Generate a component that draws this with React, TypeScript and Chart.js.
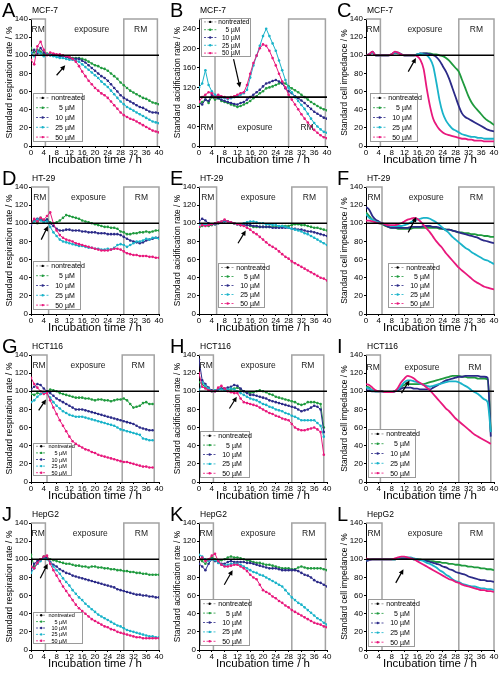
import React, { useEffect, useRef } from "react";
import { Chart, registerables } from "chart.js";
Chart.register(...registerables);

const FONT = "'Liberation Sans', Arial, Helvetica, sans-serif";

// ---------- data (hours 0..40) ----------
const HOURS = [0,1,2,3,4,5,6,7,8,9,10,11,12,13,14,15,16,17,18,19,20,21,22,23,24,25,26,27,28,29,30,31,32,33,34,35,36,37,38,39,40];
const NONTREATED = [100,100,100,100,100,100,100,100,100,100,100,100,100,100,100,100,100,100,100,100,100,100,100,100,100,100,100,100,100,100,100,100,100,100,100,100,100,100,100,100,100];
const SERIES_LABELS = ["nontreated", "5 µM", "10 µM", "25 µM", "50 µM"];

// A: MCF-7 respiration
const A5 = [108,103,106,104,101,102,101,101,100,100,99,99,98,97,97,97,96,95,93,91,89,88,86,85,83,80,77,74,70,67,64,61,59,57,55,53,52,50,48,47,46];
const A10 = [100,106,102,108,103,101,100,101,100,99,99,98,97,96,96,96,94,92,89,86,83,80,77,75,72,68,64,60,56,53,51,49,47,45,43,42,40,38,37,37,36];
const A25 = [103,99,104,102,99,101,100,99,98,97,97,96,95,95,94,93,90,87,84,81,78,75,71,68,65,61,57,53,49,46,43,41,39,37,35,33,31,29,27,26,25];
const A50 = [95,90,110,115,106,100,103,102,101,101,100,99,98,96,93,88,82,77,72,68,64,61,58,56,53,49,45,41,37,34,32,30,29,27,25,23,21,19,17,16,15];
// B: MCF-7 acidification
const B5 = [85,90,95,88,100,95,98,92,90,88,85,83,80,82,85,88,92,98,102,108,112,118,120,122,125,128,130,128,122,118,114,110,105,100,95,90,86,82,78,75,73];
const B10 = [90,85,95,92,105,100,98,95,92,90,88,86,85,88,90,95,100,105,110,115,122,128,130,133,135,132,128,118,112,108,102,98,93,88,82,76,70,66,62,58,56];
const B25 = [120,128,155,125,112,105,102,100,98,96,98,100,102,105,108,115,140,165,185,205,225,240,225,210,195,175,155,135,119,110,100,92,84,76,66,56,47,40,34,29,27];
const B50 = [90,100,105,110,108,100,105,102,100,98,100,102,105,108,110,125,148,170,185,200,208,205,195,180,165,148,132,120,105,95,85,75,65,56,48,40,33,27,22,18,16];
// C: MCF-7 impedance
const C5 = [100,101,103,100,100,100,100,100,101,103,102,101,100,100,100,100,101,101,102,102,102,101,101,100,99,97,94,90,86,82,73,64,55,48,43,39,35,31,28,26,23];
const C10 = [100,101,104,100,100,100,100,100,101,103,103,101,100,100,100,100,101,102,102,102,101,100,98,94,88,82,74,64,54,44,36,32,30,28,26,24,22,20,18,17,16];
const C25 = [100,101,103,100,100,100,100,100,101,103,103,101,100,100,100,100,101,102,101,100,96,88,70,50,36,28,23,19,17,15,13,12,11,10,10,9,9,8,8,8,8];
const C50 = [100,101,104,100,100,100,100,100,101,104,103,101,100,100,100,100,99,95,85,63,44,30,23,18,15,13,12,11,10,9,8,8,7,7,6,6,6,5,5,5,5];
// D: HT-29 respiration
const D5 = [100,104,100,106,103,104,101,100,101,103,106,109,108,107,106,105,103,102,101,100,99,98,97,96,96,95,95,94,91,90,88,88,89,89,90,90,91,90,91,92,92];
const D10 = [98,103,105,104,102,104,100,97,94,92,92,93,93,92,92,92,91,91,90,90,90,89,89,89,88,88,88,88,87,85,83,81,80,79,78,79,81,82,83,84,84];
const D25 = [100,102,104,103,101,102,96,90,86,82,80,79,78,77,76,75,75,74,73,73,72,72,71,71,72,71,73,76,77,76,74,76,78,80,80,81,83,82,84,84,83];
const D50 = [100,105,102,106,104,108,112,100,92,87,84,82,81,80,78,77,76,75,74,73,72,71,70,70,70,71,72,72,71,69,67,66,65,65,64,64,64,63,63,62,62];
// E: HT-29 acidification
const E5 = [95,97,98,97,98,99,100,101,103,102,101,100,99,98,98,98,97,96,96,96,96,96,96,96,96,96,97,97,97,98,99,99,98,98,97,96,95,95,94,93,92];
const E10 = [102,105,103,100,99,99,100,101,102,102,101,100,99,98,98,98,98,97,97,96,96,96,96,95,95,95,95,95,95,94,94,93,93,92,91,91,90,89,88,87,86];
const E25 = [98,99,98,99,99,100,101,102,103,102,101,100,99,99,100,101,102,102,101,100,100,99,99,98,98,97,97,96,95,94,93,92,91,89,88,86,84,82,80,78,76];
const E50 = [96,98,97,98,99,100,101,102,104,102,101,100,99,98,97,95,93,90,88,85,82,79,76,74,72,69,66,63,61,58,56,54,52,50,48,46,44,42,40,39,37];
// F: HT-29 impedance
const F5 = [112,108,104,102,100,99,97,96,95,95,94,94,94,94,94,95,95,95,95,95,95,95,95,94,94,93,93,92,91,90,90,89,89,88,88,87,87,86,86,85,85];
const F10 = [118,115,108,104,102,100,98,96,95,95,95,95,95,95,96,96,96,96,97,97,97,96,96,95,94,93,93,92,91,90,89,88,87,86,85,84,82,81,80,79,78];
const F25 = [110,106,104,102,101,100,99,98,97,97,97,97,98,99,101,103,104,105,106,106,105,103,101,98,95,92,89,85,82,79,76,73,71,68,66,64,62,60,59,57,55];
const F50 = [103,103,102,101,100,100,99,98,98,98,99,100,102,104,105,106,105,102,98,94,90,85,80,76,72,67,63,59,55,51,48,45,42,39,36,34,32,30,29,28,27];
// G: HCT116 respiration
const G5 = [97,96,98,97,99,100,102,101,100,98,97,96,95,94,93,93,93,92,92,91,90,91,91,90,90,89,90,91,91,92,90,86,82,83,84,87,88,86,86,null,null];
const G10 = [102,105,108,107,103,100,98,95,92,90,88,86,84,82,80,80,80,79,78,77,76,75,74,73,72,71,70,69,68,67,66,65,64,62,60,59,58,57,57,null,null];
const G25 = [88,90,94,97,99,98,93,88,84,81,78,76,74,73,72,72,72,71,70,69,68,67,66,65,64,63,62,60,58,57,56,55,54,53,52,48,47,46,46,null,null];
const G50 = [115,108,104,100,97,98,90,82,75,68,62,56,50,45,42,40,38,36,35,33,32,30,29,28,27,26,25,24,23,22,22,21,20,19,18,17,17,16,16,null,null];
// H: HCT116 acidification
const H5 = [110,108,104,102,100,101,103,103,102,101,102,103,104,102,100,99,98,99,100,101,100,99,97,96,94,93,92,91,90,89,88,86,85,86,88,88,88,87,86,60,null];
const H10 = [135,112,108,104,101,100,102,103,103,104,105,107,106,103,100,98,96,96,95,94,93,92,90,89,88,87,86,85,84,83,82,80,78,79,80,82,84,83,80,55,null];
const H25 = [100,110,106,103,100,101,103,102,101,102,103,102,100,98,96,94,92,91,90,88,86,85,83,82,80,79,78,76,75,73,72,70,68,68,68,68,68,65,62,50,null];
const H50 = [120,105,103,101,100,100,104,106,103,100,99,98,98,92,88,87,86,85,84,82,80,78,76,75,73,72,70,69,68,64,60,58,57,57,58,59,60,58,55,30,null];
// I: HCT116 impedance
const I5 = [105,104,101,100,100,100,99,99,99,100,102,105,107,108,108,108,108,108,108,109,110,111,112,113,114,115,116,117,117,117,116,116,115,115,115,114,114,114,113,55,null];
const I10 = [101,101,100,100,100,100,99,99,99,100,101,103,104,104,104,103,103,102,102,102,102,104,106,108,110,112,113,114,115,116,116,117,117,117,117,117,116,116,115,50,null];
const I25 = [104,103,101,100,100,100,99,99,99,100,102,106,110,112,112,111,110,108,107,106,105,106,107,108,109,110,111,111,111,110,108,106,104,101,99,97,94,91,88,55,null];
const I50 = [108,107,104,101,100,100,99,99,99,100,104,110,114,117,116,114,111,109,107,104,101,97,93,89,85,81,78,74,70,67,64,61,58,55,52,50,48,46,44,42,null];
// J: HepG2 respiration
const J5 = [105,92,95,100,103,102,100,99,98,97,96,95,95,94,93,93,92,92,91,92,92,91,91,90,90,89,89,88,88,87,87,86,86,85,85,84,84,83,83,83,83];
const J10 = [88,95,98,100,102,101,97,94,92,89,87,85,84,82,81,80,79,78,77,76,75,74,73,72,71,70,69,67,66,65,64,63,62,61,61,60,60,59,59,58,58];
const J25 = [85,90,95,98,101,100,96,92,88,84,79,75,71,66,62,58,55,51,48,45,42,39,37,35,33,31,29,27,26,24,22,21,20,19,18,17,16,15,15,14,14];
const J50 = [92,90,96,100,103,104,95,88,82,76,70,65,60,55,50,46,43,40,37,34,32,30,28,26,25,23,22,20,19,18,17,16,15,14,14,13,13,13,13,13,13];
// K: HepG2 acidification
const K5 = [100,98,95,100,102,100,98,99,100,102,103,102,102,101,100,99,98,97,96,96,95,94,94,93,92,91,90,90,90,89,89,91,92,91,90,90,90,90,90,89,88];
const K10 = [95,92,88,95,100,98,97,95,95,97,98,97,97,97,97,96,96,95,94,93,92,91,90,90,90,89,88,88,88,88,88,87,85,83,82,80,77,75,74,72,70];
const K25 = [105,103,100,98,100,99,96,94,93,94,95,95,95,94,92,90,88,86,85,83,82,80,78,76,74,72,70,66,62,58,55,52,50,47,44,41,38,35,33,30,28];
const K50 = [100,102,98,100,104,106,98,94,92,92,93,94,94,92,90,87,83,80,78,72,66,64,62,59,57,54,52,49,47,44,42,40,38,36,34,32,30,29,28,26,25];
// L: HepG2 impedance
const L5 = [99,100,100,100,100,100,100,100,100,100,101,101,101,101,101,100,100,100,99,99,98,98,97,97,96,96,95,95,94,94,93,93,92,92,91,91,90,90,89,89,88];
const L10 = [98,99,100,100,100,100,100,100,100,100,101,101,101,101,101,100,100,99,99,98,97,96,95,94,92,91,89,88,86,85,84,83,81,80,79,78,77,77,76,76,75];
const L25 = [100,100,100,100,100,100,100,100,100,100,101,102,102,102,102,101,100,99,98,96,95,93,91,88,86,83,81,78,76,75,73,72,71,70,70,69,68,68,67,67,66];
const L50 = [101,100,100,100,100,100,100,100,100,101,102,103,103,102,101,100,98,96,94,92,90,88,86,84,82,80,78,77,75,74,72,71,70,69,68,67,66,66,65,65,64];

// ---------- styles ----------
const COLORS = ["#000000", "#1f9a3e", "#2b2a88", "#19b3c9", "#e8187c"];
const RESP = "Standard respiration rate / %";
const ACID = "Standard acidification rate / %";
const IMP = "Standard cell impedance / %";

type Cfg = {
  letter: string; cell: string; yTitle: string; yFont: number; yMax: number; yStep: number;
  series: (number | null)[][]; smooth: boolean; rm: number[][]; labelY: number; expX: number;
  arrow: number[]; legend: number[]; left: number; top: number;
};

const PANELS: Cfg[] = [
  { letter: "A", cell: "MCF-7", yTitle: RESP, yFont: 8.8, yMax: 140, yStep: 20, series: [A5, A10, A25, A50], smooth: false, rm: [[0, 4.5], [29, 39.5]], labelY: 128, expX: 19, arrow: [8, 78, 10.7, 89], legend: [33, 93, 50, 49, 7], left: 0, top: 0 },
  { letter: "B", cell: "MCF-7", yTitle: ACID, yFont: 8.4, yMax: 260, yStep: 40, series: [B5, B10, B25, B50], smooth: false, rm: [[0, 5], [28, 39.5]], labelY: 38, expX: 17.5, arrow: [10.8, 178, 12.8, 120], legend: [33, 18, 50, 39, 6.5], left: 168, top: 0 },
  { letter: "C", cell: "MCF-7", yTitle: IMP, yFont: 8.4, yMax: 140, yStep: 20, series: [C5, C10, C25, C50], smooth: true, rm: [[0, 4.5], [29, 40]], labelY: 128, expX: 18.4, arrow: [13.2, 82, 15.6, 97], legend: [35, 93, 48, 49, 7], left: 335, top: 0 },
  { letter: "D", cell: "HT-29", yTitle: RESP, yFont: 8.8, yMax: 140, yStep: 20, series: [D5, D10, D25, D50], smooth: false, rm: [[0, 5.5], [29, 40]], labelY: 128, expX: 18, arrow: [3.2, 82, 5.3, 97], legend: [33, 93, 48, 49, 7], left: 0, top: 168 },
  { letter: "E", cell: "HT-29", yTitle: ACID, yFont: 8.4, yMax: 140, yStep: 20, series: [E5, E10, E25, E50], smooth: false, rm: [[0, 5.5], [29, 40]], labelY: 128, expX: 18.5, arrow: [12.2, 78, 14.6, 92], legend: [50, 95, 47, 45, 7], left: 168, top: 168 },
  { letter: "F", cell: "HT-29", yTitle: IMP, yFont: 8.4, yMax: 140, yStep: 20, series: [F5, F10, F25, F50], smooth: true, rm: [[0, 5], [29, 40]], labelY: 128, expX: 18.8, arrow: [13.2, 90, 15.7, 107], legend: [53, 95, 46, 45, 7], left: 335, top: 168 },
  { letter: "G", cell: "HCT116", yTitle: RESP, yFont: 8.8, yMax: 140, yStep: 20, series: [G5, G10, G25, G50], smooth: false, rm: [[0, 5], [28.5, 38.5]], labelY: 128, expX: 17.8, arrow: [2.4, 79, 4.7, 91], legend: [33, 107, 39, 33, 5.5], left: 0, top: 336 },
  { letter: "H", cell: "HCT116", yTitle: ACID, yFont: 8.4, yMax: 140, yStep: 20, series: [H5, H10, H25, H50], smooth: false, rm: [[0, 4.5], [29, 39]], labelY: 128, expX: 18.5, arrow: [9.5, 81, 11.8, 94], legend: [32, 95, 50, 47, 7], left: 168, top: 336 },
  { letter: "I", cell: "HCT116", yTitle: IMP, yFont: 8.4, yMax: 140, yStep: 20, series: [I5, I10, I25, I50], smooth: true, rm: [[0, 4.5], [29, 39]], labelY: 126, expX: 17.5, arrow: [11.1, 98, 13.6, 112], legend: [33, 93, 48, 49, 7], left: 335, top: 336 },
  { letter: "J", cell: "HepG2", yTitle: RESP, yFont: 8.8, yMax: 140, yStep: 20, series: [J5, J10, J25, J50], smooth: false, rm: [[0, 4.5], [29, 40]], labelY: 128, expX: 18.5, arrow: [2.9, 79, 5.2, 95], legend: [33, 108, 50, 32, 5.5], left: 0, top: 504 },
  { letter: "K", cell: "HepG2", yTitle: ACID, yFont: 8.4, yMax: 140, yStep: 20, series: [K5, K10, K25, K50], smooth: false, rm: [[0, 4.5], [29, 39.5]], labelY: 128, expX: 18.5, arrow: [7.9, 72, 10.5, 88], legend: [32, 95, 50, 47, 7], left: 168, top: 504 },
  { letter: "L", cell: "HepG2", yTitle: IMP, yFont: 8.4, yMax: 140, yStep: 20, series: [L5, L10, L25, L50], smooth: true, rm: [[0, 5], [29, 40]], labelY: 128, expX: 18.5, arrow: [9.3, 74, 11.7, 89], legend: [33, 95, 47, 48, 7], left: 335, top: 504 },
];

function toPoints(vals: (number | null)[]) {
  const pts: { x: number; y: number }[] = [];
  vals.forEach((v, i) => { if (v !== null && v !== undefined) pts.push({ x: HOURS[i], y: v }); });
  return pts;
}

function makeDecor(cfg: Cfg) {
  return {
    id: "decor",
    beforeDatasetsDraw(chart: any) {
      const { ctx, chartArea: ca, scales } = chart;
      const xs = scales.x;
      ctx.save();
      ctx.strokeStyle = "#a3a3a3";
      ctx.lineWidth = 1.5;
      cfg.rm.forEach(([a, b]) => {
        const xa = xs.getPixelForValue(a), xb = xs.getPixelForValue(b);
        ctx.beginPath();
        if (a > 0) { ctx.moveTo(xa, ca.bottom); ctx.lineTo(xa, ca.top); } else ctx.moveTo(xa, ca.top);
        ctx.lineTo(xb, ca.top);
        ctx.lineTo(xb, ca.bottom);
        ctx.stroke();
      });
      ctx.restore();
    },
    afterDatasetsDraw(chart: any) {
      const { ctx, scales } = chart;
      const xs = scales.x, ys = scales.y;
      ctx.save();
      // region labels
      ctx.fillStyle = "#222";
      ctx.font = `8.5px ${FONT}`;
      ctx.textAlign = "center";
      ctx.textBaseline = "middle";
      const ly = ys.getPixelForValue(cfg.labelY);
      const [r1, r2] = cfg.rm;
      ctx.fillText("RM", xs.getPixelForValue((r1[0] + r1[1]) / 2), ly);
      ctx.fillText("RM", xs.getPixelForValue((r2[0] + r2[1]) / 2), ly);
      ctx.fillText("exposure", xs.getPixelForValue(cfg.expX), ly);
      // arrow
      const [tx0, ty0, tx1, ty1] = cfg.arrow;
      const ax0 = xs.getPixelForValue(tx0), ay0 = ys.getPixelForValue(ty0);
      const ax1 = xs.getPixelForValue(tx1), ay1 = ys.getPixelForValue(ty1);
      const ang = Math.atan2(ay1 - ay0, ax1 - ax0);
      ctx.strokeStyle = "#000"; ctx.fillStyle = "#000"; ctx.lineWidth = 1.2;
      ctx.beginPath(); ctx.moveTo(ax0, ay0);
      ctx.lineTo(ax1 - 3 * Math.cos(ang), ay1 - 3 * Math.sin(ang)); ctx.stroke();
      ctx.beginPath();
      ctx.moveTo(ax1, ay1);
      ctx.lineTo(ax1 - 5 * Math.cos(ang) + 2.5 * Math.sin(ang), ay1 - 5 * Math.sin(ang) - 2.5 * Math.cos(ang));
      ctx.lineTo(ax1 - 5 * Math.cos(ang) - 2.5 * Math.sin(ang), ay1 - 5 * Math.sin(ang) + 2.5 * Math.cos(ang));
      ctx.closePath(); ctx.fill();
      // legend
      const [lx, lyy, lw, lh, fs] = cfg.legend;
      ctx.fillStyle = "#fff";
      ctx.fillRect(lx, lyy, lw, lh);
      ctx.strokeStyle = "#9a9a9a"; ctx.lineWidth = 1;
      ctx.strokeRect(lx + 0.5, lyy + 0.5, lw - 1, lh - 1);
      const rowH = lh / 5;
      const sw = fs * 1.9;
      ctx.font = `${fs}px ${FONT}`;
      ctx.textAlign = "left";
      const wide = ctx.measureText("10").width;
      SERIES_LABELS.forEach((lab, i) => {
        const cy = lyy + rowH * (i + 0.5);
        const sx = lx + 3;
        ctx.strokeStyle = i === 0 ? "#888" : COLORS[i];
        ctx.lineWidth = 0.8;
        ctx.setLineDash([2, 1.5]);
        ctx.beginPath(); ctx.moveTo(sx, cy); ctx.lineTo(sx + sw, cy); ctx.stroke();
        ctx.setLineDash([]);
        ctx.fillStyle = COLORS[i];
        ctx.beginPath(); ctx.arc(sx + sw / 2, cy, 1.2, 0, Math.PI * 2); ctx.fill();
        ctx.fillStyle = "#000";
        let tx = sx + sw + 2;
        if (i > 0) {
          const num = lab.split(" ")[0];
          tx += fs * 0.55 + (wide - ctx.measureText(num).width);
        }
        ctx.fillText(lab, tx, cy + 0.5);
      });
      ctx.restore();
    },
    afterDraw(chart: any) {
      const { ctx } = chart;
      ctx.save();
      ctx.fillStyle = "#000";
      ctx.textAlign = "left";
      ctx.textBaseline = "alphabetic";
      ctx.font = `20px ${FONT}`;
      ctx.fillText(cfg.letter, 2, 17);
      ctx.font = `8.5px ${FONT}`;
      ctx.fillText(cfg.cell, 32, 13);
      ctx.restore();
    },
  };
}

function Panel({ cfg }: { cfg: Cfg }) {
  const ref = useRef<HTMLCanvasElement | null>(null);
  useEffect(() => {
    if (!ref.current) return;
    const datasets: any[] = [
      {
        label: SERIES_LABELS[0], data: toPoints(NONTREATED), borderColor: "#000", borderWidth: 1.6,
        pointRadius: 0, order: 0,
      },
    ];
    cfg.series.forEach((vals, k) => {
      const color = COLORS[k + 1];
      datasets.push({
        label: SERIES_LABELS[k + 1],
        data: toPoints(vals),
        borderColor: color,
        backgroundColor: color,
        borderWidth: cfg.smooth ? 1.8 : 1,
        pointRadius: cfg.smooth ? 0 : 1.3,
        pointBorderWidth: 0,
        pointBackgroundColor: color,
        cubicInterpolationMode: cfg.smooth ? "monotone" : "default",
        tension: 0,
        order: 5 - k,
      });
    });
    const tickFont = { family: FONT, size: 8 };
    const chart = new Chart(ref.current, {
      type: "line",
      data: { datasets },
      options: {
        animation: false,
        responsive: false,
        devicePixelRatio: 1,
        events: [],
        layout: { padding: { left: 0, right: 9, top: 19, bottom: 0 } },
        plugins: { legend: { display: false }, tooltip: { enabled: false } },
        scales: {
          x: {
            type: "linear", min: 0, max: 40,
            ticks: { stepSize: 4, autoSkip: false, maxRotation: 0, font: tickFont, color: "#000", padding: 0 },
            grid: { drawOnChartArea: false, drawTicks: true, tickLength: 2, color: "#000" },
            border: { display: true, color: "#000", width: 1 },
            title: { display: true, text: "Incubation time / h", color: "#000", font: { family: FONT, size: 11.5, lineHeight: 1 }, padding: { top: 0, bottom: 2 } },
            afterFit: (s: any) => { s.height = 22; },
          },
          y: {
            type: "linear", min: 0, max: cfg.yMax,
            ticks: { stepSize: cfg.yStep, includeBounds: false, font: tickFont, color: "#000", padding: 1 },
            grid: { drawOnChartArea: false, drawTicks: true, tickLength: 2, color: "#000" },
            border: { display: true, color: "#000", width: 1 },
            title: { display: true, text: cfg.yTitle, color: "#000", font: { family: FONT, size: cfg.yFont, lineHeight: 1 }, padding: { top: 5, bottom: 0 } },
            afterFit: (s: any) => { s.width = 31; },
          },
        },
      } as any,
      plugins: [makeDecor(cfg)],
    });
    return () => chart.destroy();
  }, [cfg]);
  return (
    <canvas
      ref={ref}
      width={168}
      height={168}
      style={{ position: "absolute", left: cfg.left, top: cfg.top, width: 168, height: 168 }}
    />
  );
}

export default function App() {
  return (
    <div style={{ position: "absolute", left: 0, top: 0, width: 503, height: 673, background: "#fff", overflow: "hidden" }}>
      {PANELS.map((p) => (
        <Panel key={p.letter} cfg={p} />
      ))}
    </div>
  );
}
